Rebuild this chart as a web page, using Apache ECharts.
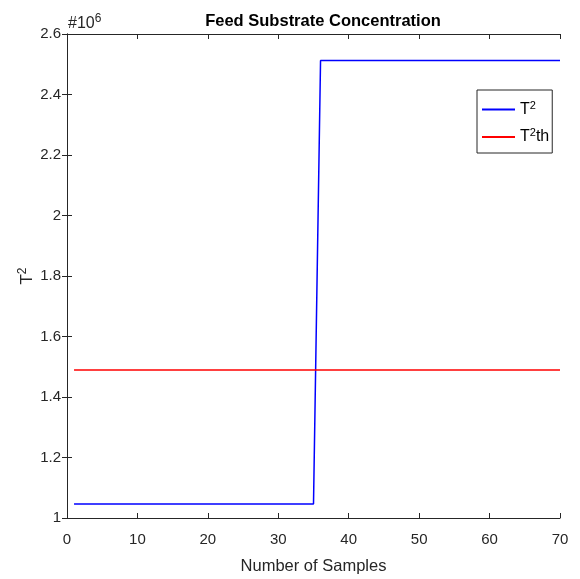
<!DOCTYPE html>
<html><head><meta charset="utf-8">
<script src="https://cdn.jsdelivr.net/npm/echarts@6/dist/echarts.min.js"></script>
<style>html,body{margin:0;padding:0;background:#fff}#c{width:580px;height:579px}</style>
</head><body><div id="c"></div>
<script>
// Data (values in units of 1e6)
var samples = [1,2,3,4,5,6,7,8,9,10,11,12,13,14,15,16,17,18,19,20,21,22,23,24,25,26,27,28,29,30,31,32,33,34,35,36,37,38,39,40,41,42,43,44,45,46,47,48,49,50,51,52,53,54,55,56,57,58,59,60,61,62,63,64,65,66,67,68,69,70];
var t2 = [1.046,1.046,1.046,1.046,1.046,1.046,1.046,1.046,1.046,1.046,1.046,1.046,1.046,1.046,1.046,1.046,1.046,1.046,1.046,1.046,1.046,1.046,1.046,1.046,1.046,1.046,1.046,1.046,1.046,1.046,1.046,1.046,1.046,1.046,1.046,
          2.512,2.512,2.512,2.512,2.512,2.512,2.512,2.512,2.512,2.512,2.512,2.512,2.512,2.512,2.512,2.512,2.512,2.512,2.512,2.512,2.512,2.512,2.512,2.512,2.512,2.512,2.512,2.512,2.512,2.512,2.512,2.512,2.512,2.512,2.512];
var t2thX = [1, 70];
var t2th = [1.489, 1.489];
var xTicks = [0,10,20,30,40,50,60,70];
var yTicks = [1,1.2,1.4,1.6,1.8,2,2.2,2.4,2.6];

var font = '"Liberation Sans", Arial, Helvetica, sans-serif';
var axisCol = '#262626';
var chart = echarts.init(document.getElementById('c'));
var pairs = function(xs, ys){ return xs.map(function(x,i){return [x, ys[i]];}); };
var richSup = {
  b: {fontFamily: font, fontSize: 16, color: '#000'},
  s: {fontFamily: font, fontSize: 11, color: '#000', verticalAlign: 'bottom', padding: [0,0,8,0]}
};
chart.setOption({
  animation: false,
  backgroundColor: '#fff',
  title: {
    text: 'Feed Substrate Concentration', left: 318, top: 8, textAlign: 'center',
    textStyle: {fontFamily: font, fontSize: 16.5, fontWeight: 'bold', color: '#000'}
  },
  grid: {left: 67, right: 20, top: 34, bottom: 61, containLabel: false, outerBoundsMode: 'none'},
  legend: {
    left: 477, top: 90, orient: 'vertical', itemGap: 10,
    padding: [10, 3, 8, 5],
    borderColor: '#262626', borderWidth: 1, backgroundColor: '#fff',
    icon: 'rect', itemWidth: 33, itemHeight: 2,
    data: ['T2', 'T2th'],
    formatter: function(n){ return n === 'T2' ? '{b|T}{s|2}' : '{b|T}{s|2}{b|th}'; },
    textStyle: {fontFamily: font, fontSize: 16, color: '#000', rich: richSup}
  },
  xAxis: [{
    type: 'value', min: 0, max: 70, interval: 10,
    name: 'Number of Samples', nameLocation: 'middle', nameGap: 40,
    nameTextStyle: {fontFamily: font, fontSize: 16.5, color: '#262626'},
    axisLine: {lineStyle: {color: axisCol, width: 1}},
    axisTick: {inside: true, length: 5, lineStyle: {color: axisCol}},
    axisLabel: {fontFamily: font, fontSize: 15, color: '#262626', margin: 14,
      formatter: function(v){ return xTicks.indexOf(v) >= 0 ? String(v) : ''; }},
    splitLine: {show: false}
  }, {
    type: 'value', min: 0, max: 70, interval: 10, position: 'top',
    axisLine: {lineStyle: {color: axisCol, width: 1}},
    axisTick: {inside: true, length: 5, lineStyle: {color: axisCol}},
    axisLabel: {show: false}, splitLine: {show: false}
  }],
  yAxis: [{
    type: 'value', min: 1, max: 2.6, interval: 0.2,
    name: '{b|T}{s|2}', nameLocation: 'middle', nameGap: 30, nameRotate: 90, nameMoveOverlap: false,
    nameTextStyle: {rich: {
      b: {fontFamily: font, fontSize: 17, color: '#262626'},
      s: {fontFamily: font, fontSize: 12, color: '#262626', verticalAlign: 'bottom', padding: [0,0,8,0]}
    }},
    axisLine: {lineStyle: {color: axisCol, width: 1}},
    axisTick: {inside: true, length: 5, lineStyle: {color: axisCol}},
    axisLabel: {fontFamily: font, fontSize: 15, color: '#262626', margin: 6,
      formatter: function(v){ var r = Math.round(v*10)/10; return yTicks.indexOf(r) >= 0 ? String(r) : ''; }},
    splitLine: {show: false}
  }, {
    type: 'value', min: 1, max: 2.6, interval: 0.2, position: 'right',
    axisLine: {show: true, lineStyle: {color: axisCol, width: 1}},
    axisTick: {show: true, inside: true, length: 5, lineStyle: {color: axisCol}},
    axisLabel: {show: false}, splitLine: {show: false}
  }],
  graphic: [{
    type: 'text', left: 68, top: 13,
    style: {
      text: '{b|#10}{s|6}',
      rich: {
        b: {fontFamily: font, fontSize: 16, fill: '#262626'},
        s: {fontFamily: font, fontSize: 12, fill: '#262626', verticalAlign: 'bottom', padding: [0,0,9,0]}
      }
    }
  }],
  series: [{
    name: 'T2', type: 'line', data: pairs(samples, t2), showSymbol: false, symbol: 'none',
    lineStyle: {color: '#0000ff', width: 1.5}, itemStyle: {color: '#0000ff'}
  }, {
    name: 'T2th', type: 'line', data: pairs(t2thX, t2th), showSymbol: false, symbol: 'none',
    lineStyle: {color: '#ff0000', width: 1.5}, itemStyle: {color: '#ff0000'}
  }]
});
</script></body></html>
